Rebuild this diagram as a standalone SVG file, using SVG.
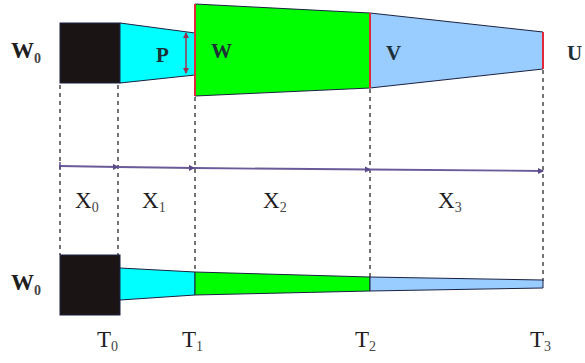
<svg xmlns="http://www.w3.org/2000/svg" width="585" height="363" viewBox="0 0 585 363">
<defs>
<style>
.lbl{font-family:"Liberation Serif","Times New Roman",serif;fill:#1e1e1e;}
.big{font-size:23px;}
.sub{font-size:14px;fill:#444;}
.in{font-family:"Liberation Serif","Times New Roman",serif;font-size:21px;fill:#1c3038;font-weight:bold;}
.dash{stroke:#3a3a3a;stroke-width:1.4;stroke-dasharray:4 4;fill:none;}
.edge{stroke:#1a2040;stroke-width:1;}
.red{stroke:#e02838;stroke-width:2;}
.axis{stroke:#6a5a9a;stroke-width:1.8;fill:none;marker-end:url(#ah);}
</style>
<marker id="ah" viewBox="0 0 6 6" refX="5" refY="3" markerWidth="3.5" markerHeight="3.5" orient="auto">
<path d="M0,0 L6,3 L0,6 z" fill="#5a4a8a"/>
</marker>
<marker id="rh" viewBox="0 0 6 6" refX="5" refY="3" markerWidth="4" markerHeight="4" orient="auto-start-reverse">
<path d="M0,0 L6,3 L0,6 z" fill="#a03050"/>
</marker>
</defs>

<g id="connectors">
<line class="dash" x1="60" y1="85" x2="60" y2="255"/>
<line class="dash" x1="118" y1="85" x2="118" y2="255"/>
<line class="dash" x1="195" y1="97" x2="195" y2="271"/>
<line class="dash" x1="370" y1="89" x2="370" y2="277"/>
<line class="dash" x1="543" y1="70" x2="543" y2="281"/>
<line class="axis" x1="60" y1="166" x2="118" y2="167"/>
<line class="axis" x1="118" y1="167" x2="194" y2="168"/>
<line class="axis" x1="194" y1="168" x2="370" y2="169.5"/>
<line class="axis" x1="370" y1="169.5" x2="543" y2="171"/>
<line x1="60" y1="162" x2="60" y2="170" stroke="#5a4a8a" stroke-width="1.4"/>
</g>

<g id="top-W0"><rect x="60" y="23" width="60" height="60" fill="#1a1414" class="edge"/></g>
<g id="top-P">
<polygon points="120,23 195,33 195,75 120,83" fill="#00ffff" class="edge"/>
<line x1="186" y1="33" x2="186" y2="73" stroke="#a03050" stroke-width="1.5" marker-start="url(#rh)" marker-end="url(#rh)"/>
</g>
<g id="top-W">
<polygon points="195,4 370,13 370,88 195,96" fill="#00ff00" class="edge"/>
<line class="red" x1="195" y1="4" x2="195" y2="96"/>
</g>
<g id="top-V">
<polygon points="370,13 543,32 543,69 370,88" fill="#99ccff" class="edge"/>
<line class="red" x1="370" y1="13" x2="370" y2="88"/>
<line class="red" x1="543" y1="32" x2="543" y2="69"/>
</g>

<g id="bottom-W0"><rect x="60" y="255" width="60" height="60" fill="#1a1414" class="edge"/></g>
<g id="bottom-P"><polygon points="120,268 195,272 195,295 120,300" fill="#00ffff" class="edge"/></g>
<g id="bottom-W"><polygon points="195,272 370,277 370,291 195,295" fill="#00ff00" class="edge"/></g>
<g id="bottom-V"><polygon points="370,277 543,280 543,288 370,291" fill="#99ccff" class="edge"/></g>

<g id="labels">
<text class="lbl big" x="11" y="58" font-weight="bold">W<tspan class="sub" dy="5">0</tspan></text>
<text class="in" x="156" y="62">P</text>
<text class="in" x="211" y="58">W</text>
<text class="in" x="386" y="60">V</text>
<text class="in" x="567" y="60">U</text>
<text class="lbl big" x="75" y="208">X<tspan class="sub" dy="4">0</tspan></text>
<text class="lbl big" x="142" y="208">X<tspan class="sub" dy="4">1</tspan></text>
<text class="lbl big" x="263" y="208">X<tspan class="sub" dy="4">2</tspan></text>
<text class="lbl big" x="438" y="208">X<tspan class="sub" dy="4">3</tspan></text>
<text class="lbl big" x="11" y="290" font-weight="bold">W<tspan class="sub" dy="5">0</tspan></text>
<text class="lbl big" x="97" y="347">T<tspan class="sub" dy="4">0</tspan></text>
<text class="lbl big" x="182" y="347">T<tspan class="sub" dy="4">1</tspan></text>
<text class="lbl big" x="355" y="347">T<tspan class="sub" dy="4">2</tspan></text>
<text class="lbl big" x="530" y="347">T<tspan class="sub" dy="4">3</tspan></text>
</g>
</svg>
